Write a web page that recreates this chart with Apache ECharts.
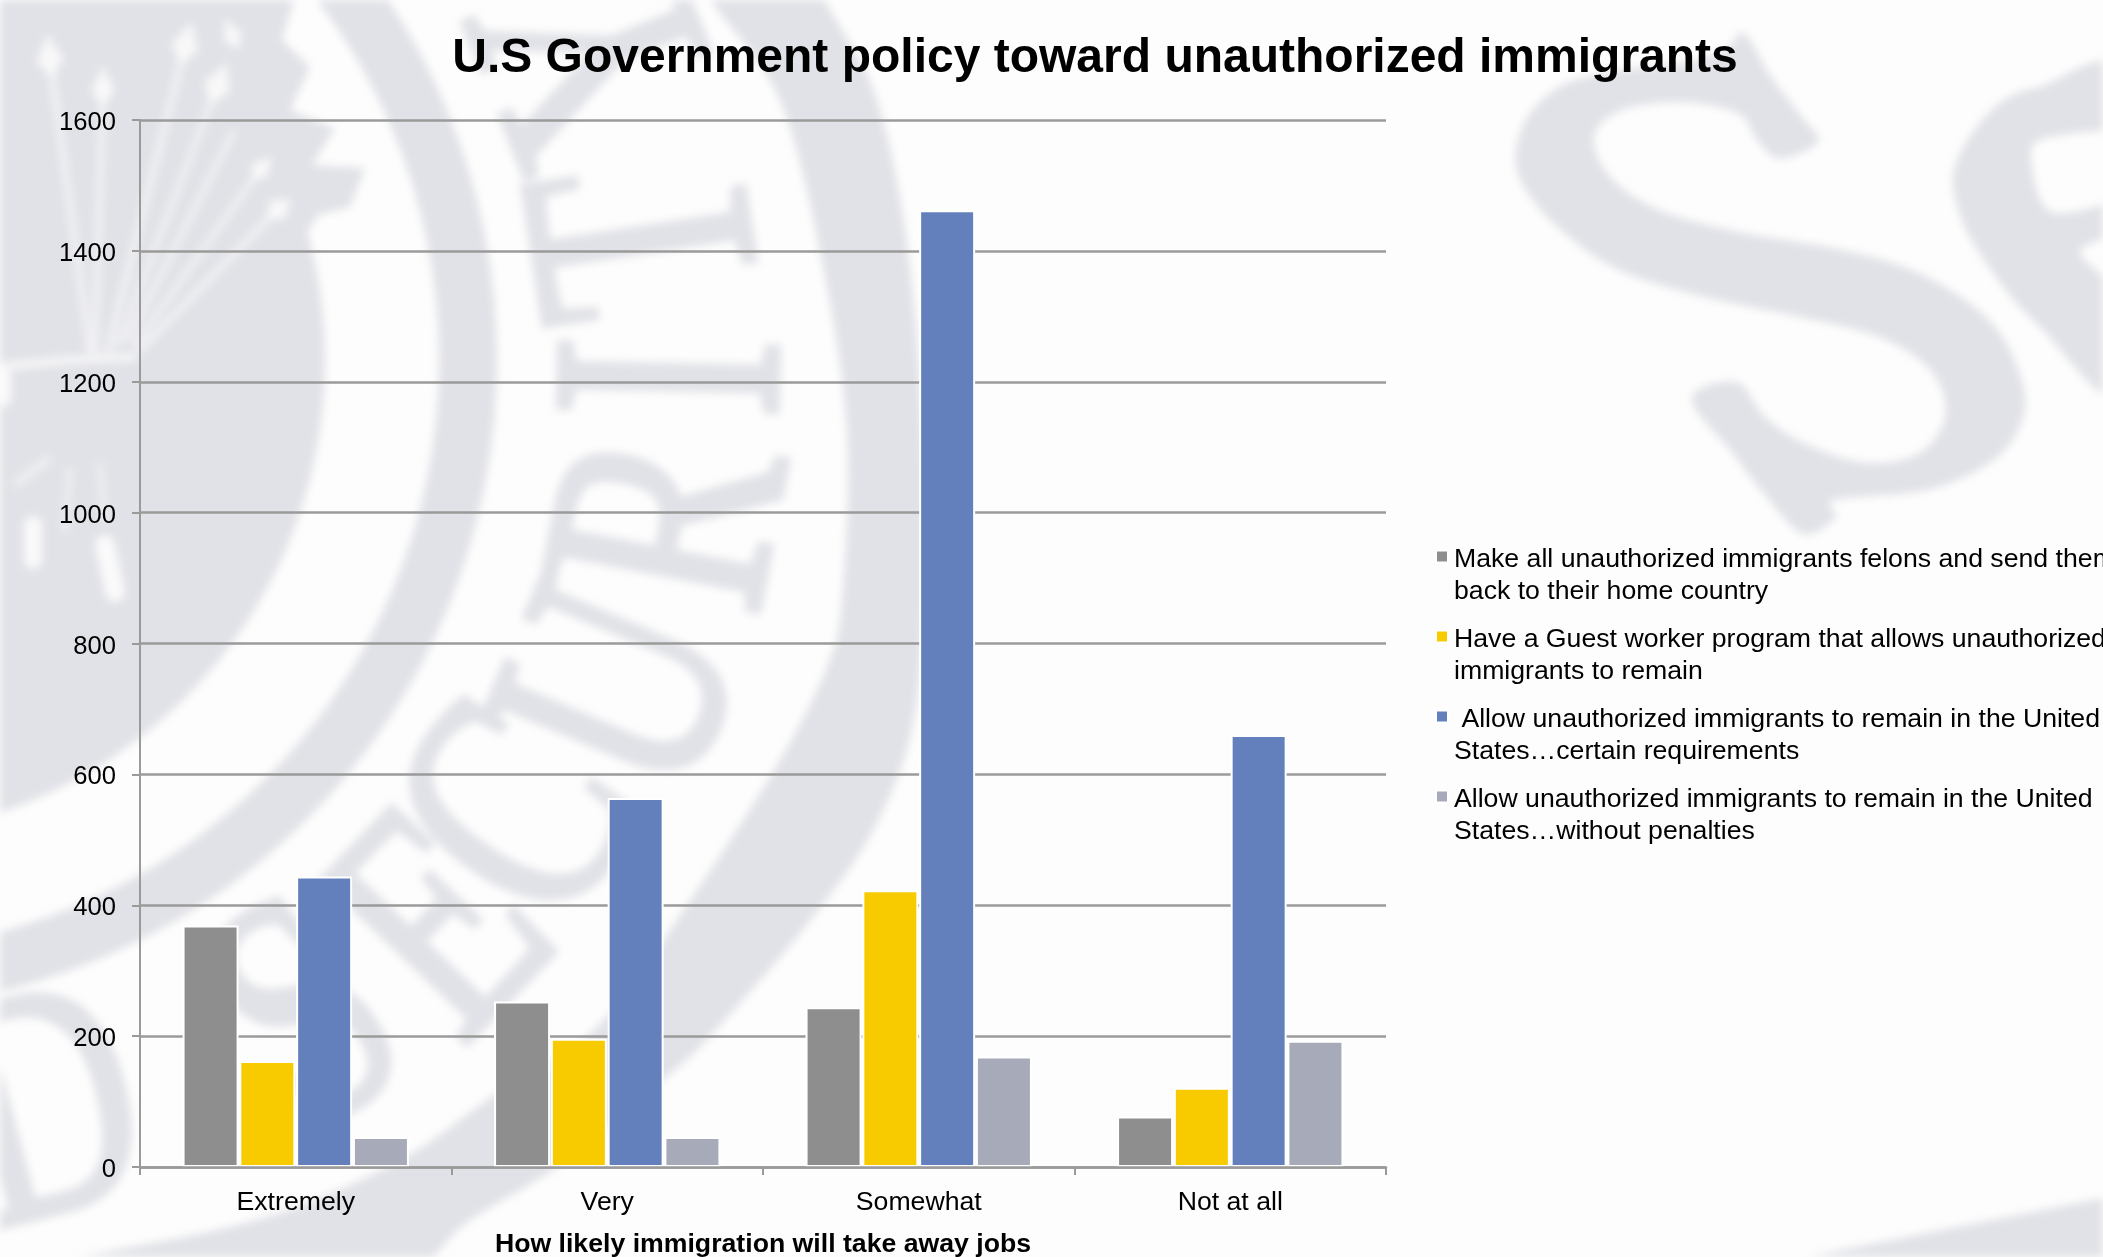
<!DOCTYPE html>
<html>
<head>
<meta charset="utf-8">
<style>
  html, body { margin: 0; padding: 0; background: #fdfdfd; overflow: hidden; }
  #seal, #chart { position: absolute; left: 0; top: 0; width: 2103px; height: 1257px; }
  #seal { filter: blur(4px); }
</style>
<script src="https://cdn.jsdelivr.net/npm/echarts@6/dist/echarts.min.js"></script>
</head>
<body>
<div id="seal"></div>
<div id="chart"></div>
<script>
// Survey responses by perceived likelihood of immigration taking away jobs
const categories = ['Extremely', 'Very', 'Somewhat', 'Not at all'];
const deportValues = [369, 253, 244, 77];
const guestWorkerValues = [162, 196, 423, 121];
const remainRequirementsValues = [444, 564, 1462, 660];
const remainNoPenaltyValues = [46, 46, 169, 193];

const policyNames = [
  'Make all unauthorized immigrants felons and send them\nback to their home country',
  'Have a Guest worker program that allows unauthorized\nimmigrants to remain',
  ' Allow unauthorized immigrants to remain in the United\nStates\u2026certain requirements',
  'Allow unauthorized immigrants to remain in the United\nStates\u2026without penalties'
];
const policyColors = ['#8e8e8e', '#f8cb00', '#6480bc', '#a7aab8'];
const policyValues = [deportValues, guestWorkerValues, remainRequirementsValues, remainNoPenaltyValues];

const titleText = 'U.S Government policy toward unauthorized immigrants';
const xAxisTitle = 'How likely immigration will take away jobs';

const SANS = '"Liberation Sans", Arial, sans-serif';
const TEXT_SIZE = 26.67;
const INK = '#e1e2e7';
const PAPER = '#fdfdfd';

// Seal watermark behind the plot
const sealCx = -153, sealCy = 360;

// Closed Catmull-Rom outline sampled into polygon points
function curve(points, steps) {
  const n = points.length, out = [];
  const k = steps || 8;
  for (let i = 0; i < n; i++) {
    const p0 = points[(i + n - 1) % n], p1 = points[i], p2 = points[(i + 1) % n], p3 = points[(i + 2) % n];
    for (let s = 0; s < k; s++) {
      const t = s / k, t2 = t * t, t3 = t2 * t;
      out.push([0, 1].map((c) => 0.5 * (2 * p1[c] + (p2[c] - p0[c]) * t +
        (2 * p0[c] - 5 * p1[c] + 4 * p2[c] - p3[c]) * t2 +
        (3 * p1[c] - p0[c] - 3 * p2[c] + p3[c]) * t3)));
    }
  }
  return out;
}
function ring(r0, r) {
  return { type: 'ring', shape: { cx: sealCx, cy: sealCy, r0: r0, r: r }, style: { fill: INK }, silent: true };
}
function letter(ch, deg, radius) {
  const a = deg * Math.PI / 180;
  return {
    type: 'text', silent: true,
    x: sealCx + radius * Math.cos(a), y: sealCy + radius * Math.sin(a),
    rotation: (90 - deg) * Math.PI / 180, scaleX: 0.74,
    style: {
      text: ch, fill: INK, stroke: INK, lineWidth: 8,
      font: '330px "Liberation Serif", serif', align: 'center', verticalAlign: 'middle'
    }
  };
}
function shape(points) {
  return { type: 'polygon', silent: true, shape: { points: points }, style: { fill: INK } };
}
function soft(points, fill) {
  return {
    type: 'polygon', silent: true, x: 1490, y: 20, scaleX: 1 / 2.558, scaleY: 1 / 2.958,
    shape: { points: curve(points) }, style: { fill: fill || INK }
  };
}
function streak(points, width, opacity) {
  return {
    type: 'polyline', silent: true, shape: { points: points },
    style: { stroke: PAPER, lineWidth: width, fill: 'none', lineCap: 'round', opacity: opacity || 0.65 }
  };
}
function arrowHead(x, y, w, h, tilt) {
  return {
    type: 'polygon', silent: true, x: x, y: y, rotation: tilt,
    shape: { points: [[0, -h], [w, 0], [0, h * 0.7], [-w, 0]] },
    style: { fill: PAPER, opacity: 0.8 }
  };
}
const sealElements = [
  { type: 'circle', silent: true, shape: { cx: sealCx, cy: sealCy, r: 478 }, style: { fill: INK } },
  shape([[-20, -20], [300, -20], [282, 40], [310, 67], [290, 110], [335, 128], [312, 165], [365, 168], [350, 207], [318, 215], [290, 260], [-20, 260]]),
  ring(592, 650),
  shape(curve([
    [700, -40], [711, 0], [780, 100], [823, 267], [847, 433], [842, 600], [827, 667], [780, 760], [697, 890],
    [597, 1027], [497, 1093], [400, 1160], [267, 1217], [100, 1253], [-20, 1275], [-40, 1310],
    [340, 1310], [470, 1220], [560, 1165], [663, 1080], [713, 1033], [813, 917], [880, 817], [917, 700],
    [925, 500], [910, 267], [877, 100], [825, 0], [815, -40]
  ])),
  letter('Y', -22, 828),
  letter('T', -8.6, 825),
  letter('I', 1.2, 843),
  letter('R', 11, 855),
  letter('U', 23, 855),
  letter('C', 34, 825),
  letter('E', 43.6, 833),
  letter('S', 55, 815),
  letter('D', 75, 790),
  // Arrow shafts, heads and the knot binding them
  streak([[90, 350], [50, 60]], 6),
  streak([[95, 350], [103, 90]], 6),
  streak([[108, 350], [185, 47]], 6),
  streak([[118, 345], [217, 87]], 5),
  streak([[128, 340], [233, 133]], 5),
  streak([[135, 345], [260, 170]], 5),
  streak([[140, 350], [277, 210]], 6),
  arrowHead(50, 60, 14, 26, 0.1),
  arrowHead(103, 90, 12, 24, 0),
  arrowHead(185, 47, 14, 26, -0.25),
  arrowHead(217, 87, 14, 26, -0.4),
  arrowHead(233, 37, 10, 20, 0.4),
  arrowHead(260, 170, 10, 18, -0.7),
  arrowHead(277, 210, 12, 18, -0.9),
  streak([[0, 367], [70, 360], [133, 357]], 8, 0.8),
  streak([[5, 375], [5, 400]], 12, 0.9),
  streak([[33, 525], [33, 560]], 18, 0.9),
  streak([[105, 545], [115, 592]], 20, 0.9),
  streak([[17, 483], [47, 460]], 8, 0.5),
  streak([[70, 470], [65, 530]], 6, 0.5),
  streak([[100, 465], [105, 520]], 6, 0.5),
  // Large letters on the right
  soft([
    [650, 40], [720, 170], [800, 290], [840, 360], [740, 410], [680, 350], [640, 280], [520, 245], [370, 255], [280, 310],
    [270, 390], [330, 490], [450, 570], [650, 630], [900, 680], [1100, 750], [1270, 880], [1350, 1030], [1365, 1170],
    [1290, 1300], [1120, 1390], [880, 1420], [885, 1470], [800, 1520], [700, 1400], [620, 1280], [515, 1120], [630, 1070],
    [700, 1170], [800, 1250], [960, 1310], [1100, 1280], [1165, 1170], [1130, 1040], [1000, 940], [800, 880], [550, 820],
    [330, 740], [180, 620], [90, 500], [65, 400], [100, 280], [190, 190], [330, 150], [500, 125], [600, 90]
  ]),
  soft([[1640, 185], [1400, 200], [1280, 270], [1190, 430], [1200, 570], [1270, 720], [1400, 900], [1640, 1100]]),
  soft([[1640, 340], [1420, 350], [1385, 420], [1440, 570], [1640, 500]], PAPER),
  soft([[1640, 650], [1510, 680], [1568, 760], [1640, 860]], PAPER),
  shape([[1807, 1257], [1967, 1225], [2103, 1198], [2103, 1257]])
];

const seal = echarts.init(document.getElementById('seal'), null, { renderer: 'canvas' });
seal.setOption({ backgroundColor: PAPER, animation: false, graphic: { elements: sealElements } });

// Grouped bars
const chart = echarts.init(document.getElementById('chart'), null, { renderer: 'canvas' });
chart.setOption({
  backgroundColor: 'transparent',
  animation: false,
  textStyle: { fontFamily: SANS },
  title: {
    text: titleText, left: 1090, top: 30, textAlign: 'center',
    textStyle: { fontFamily: SANS, fontSize: 48, fontWeight: 'bold', color: '#000' }
  },
  legend: {
    orient: 'vertical', left: 1435, top: 544, itemGap: 16, itemWidth: 12, itemHeight: 51,
    icon: 'path://M0,0H12V12H0Z M12,51L12,51Z',
    align: 'left', padding: 0, selectedMode: false,
    textStyle: { fontFamily: SANS, fontSize: TEXT_SIZE, lineHeight: 32, color: '#000', padding: [0, 0, 0, 1] }
  },
  grid: { left: 140, right: 717, top: 120, bottom: 90, outerBoundsMode: 'none' },
  xAxis: {
    type: 'category', data: categories, z: 5,
    name: xAxisTitle, nameLocation: 'middle', nameGap: 64,
    nameTextStyle: { fontFamily: SANS, fontSize: TEXT_SIZE, fontWeight: 'bold', color: '#000' },
    axisLine: { lineStyle: { color: '#9a9a9a', width: 2.5 } },
    axisTick: { show: true, alignWithLabel: false, length: 8, lineStyle: { color: '#9a9a9a', width: 2 } },
    axisLabel: { margin: 22, color: '#000', fontSize: TEXT_SIZE, fontFamily: SANS }
  },
  yAxis: {
    type: 'value', min: 0, max: 1600, interval: 200,
    axisLine: { show: true, lineStyle: { color: '#9a9a9a', width: 2 } },
    axisTick: { show: true, length: 8, lineStyle: { color: '#9a9a9a', width: 2 } },
    splitLine: { show: true, lineStyle: { color: '#9a9a9a', width: 2.5 } },
    axisLabel: {
      margin: 24, color: '#000', fontSize: 25.6, fontFamily: SANS,
      verticalAlign: 'top', lineHeight: 6,
      formatter: (v) => String(v)
    }
  },
  series: policyNames.map((name, i) => ({
    type: 'bar', name: name, data: policyValues[i],
    barWidth: 56, barGap: '1.4%',
    itemStyle: { color: policyColors[i], borderColor: '#ffffff', borderWidth: 2 }
  }))
});
</script>
</body>
</html>
